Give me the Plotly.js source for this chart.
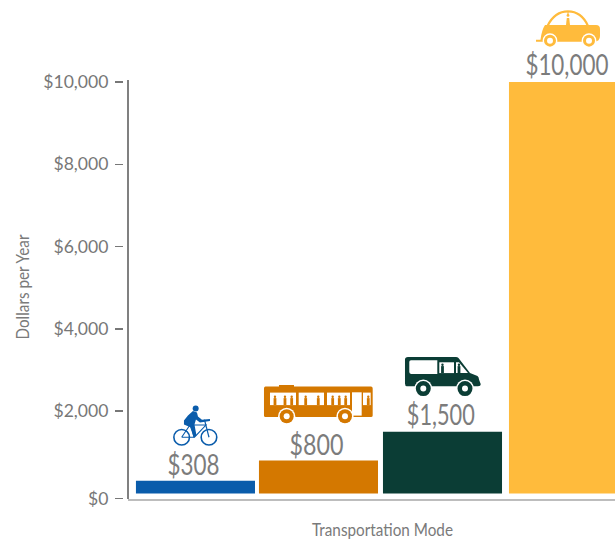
<!DOCTYPE html>
<html><head><meta charset="utf-8">
<script src="https://cdn.plot.ly/plotly-3.0.1.min.js"></script>
<style>html,body{margin:0;padding:0;background:#fff;overflow:hidden}</style>
</head><body><div id="chart" style="width:615px;height:540px"></div>
<script>
// ---- data ----
const categories = ['Bicycle', 'Bus', 'Vanpool', 'Car'];
const values = [308, 800, 1500, 10000];
const valueLabels = ['$308', '$800', '$1,500', '$10,000'];
const barColors = ['#0a5cab', '#d47800', '#0b3d35', '#ffbb3c'];
const tickValues = [-121, 2000, 4000, 6000, 8000, 10000];
const tickLabels = ['$0', '$2,000', '$4,000', '$6,000', '$8,000', '$10,000'];
const barOffsets = [-0.48, -0.488, -0.488, -0.472];
const labelGaps = [-1, -1, 0, 0];
const labelNudges = [-1.5, -3, -2.5, -0.5];
const labelWidths = [52, 54, 68, 83];

// ---- icon helpers: coordinates are px offsets from the top-centre of each bar ----
const shapes = [];
function base(i, extra) {
  return Object.assign({xref:'x', yref:'y', xsizemode:'pixel', ysizemode:'pixel',
    xanchor:i, yanchor:values[i], layer:'above'}, extra);
}
function poly(i, o, cmds, fill, stroke, sw) {
  const d = cmds.map(c => c[0] + ' ' + c.slice(1).map((v,k)=> k%2===0 ? (v-o[0]).toFixed(2) : (o[1]-v).toFixed(2)).join(' ')).join(' ');
  shapes.push(base(i, {type:'path', path:d, fillcolor:fill||'rgba(0,0,0,0)',
    line:{color:stroke||'rgba(0,0,0,0)', width:sw||0}}));
}
function circ(i, o, cx, cy, r, fill, stroke, sw) {
  shapes.push(base(i, {type:'circle', x0:cx-r-o[0], x1:cx+r-o[0], y0:o[1]-cy-r, y1:o[1]-cy+r,
    fillcolor:fill||'rgba(0,0,0,0)', line:{color:stroke||'rgba(0,0,0,0)', width:sw||0}}));
}
function rect(i,o,x0,y0,x1,y1,fill){
  poly(i,o,[['M',x0,y0],['L',x1,y0],['L',x1,y1],['L',x0,y1],['Z']],fill);
}
function person(i,o,x,top,bottom,col){
  circ(i,o,x,top+1.1,1.2,col);
  poly(i,o,[['M',x-1.4,top+2.5],['L',x+1.4,top+2.5],['L',x+1.4,bottom],['L',x-1.4,bottom],['Z']],col);
}

// bicycle
(function(){
  const i=0,c=barColors[0],o=[195.5,481.3];
  circ(i,o,181.7,437.7,7.8,null,c,1.6);
  circ(i,o,209,437.7,7.8,null,c,1.6);
  circ(i,o,195.7,409,3,c);
  poly(i,o,[['M',181.7,437.7],['L',190,425.5],['L',206,425.5],['L',194.5,437.7],['L',181.7,437.7]],null,c,1.1);
  poly(i,o,[['M',190,425.5],['L',194.5,437.7]],null,c,1.1);
  poly(i,o,[['M',209,437.7],['L',204.5,420]],null,c,1.2);
  poly(i,o,[['M',193,411.5],['L',197,413],['L',198,417],['L',202,420.2],['L',210,419.5],['L',210,421.5],
    ['L',200,423],['L',196,420],['L',194.5,425],['L',196.5,436],['L',193.5,438],['L',191,428],
    ['L',184,425],['L',184,421],['L',188,416],['Z']],c);
})();

// bus
(function(){
  const i=1,c=barColors[1],o=[319.5,461];
  poly(i,o,[['M',265.5,387],['L',279,387],['L',279,385.5],['L',294,385.5],['L',294,387],['L',371,387],
    ['Q',372.7,387,372.7,389],['L',372.7,416],['Q',372.7,417.5,371,417.5],['L',265.5,417.5],
    ['Q',264,417.5,264,416],['L',264,389],['Q',264,387,265.5,387],['Z']],c);
  rect(i,o,270,393,296,405.5,'#fff');
  rect(i,o,298.7,393,324,405.5,'#fff');
  rect(i,o,327,393,350,405.5,'#fff');
  rect(i,o,352,392.7,361.7,416,'#fff');
  rect(i,o,363,393,370.7,405.5,'#fff');
  [275,285,291.7,305.7,318.3,332.7,339.3,345.7,368.3].forEach(x=>person(i,o,x,396,405.5,c));
  [286.7,345].forEach(x=>{
    circ(i,o,x,416.7,8.6,'#fff');
    circ(i,o,x,416.7,7,c);
    circ(i,o,x,416.7,3,'#fff');
  });
})();

// van
(function(){
  const i=2,c=barColors[2],o=[443.5,432.2];
  poly(i,o,[['M',408,357.3],['L',456,357.3],['Q',457.5,357.3,458.5,358.5],['L',470,373.3],['L',477.5,376.5],
    ['Q',479,377.5,479,380],['L',480.7,384.5],['Q',480.7,386.7,478,386.7],['L',407,386.7],
    ['Q',405,386.7,405,384],['L',405,360],['Q',405,357.3,408,357.3],['Z']],c);
  poly(i,o,[['M',411,360.7],['L',437.3,360.7],['L',437.3,374.3],['L',411,374.3],['Q',409.3,374.3,409.3,372.5],
    ['L',409.3,362.5],['Q',409.3,360.7,411,360.7],['Z']],'#fff');
  rect(i,o,439.3,362.7,454,373.5,'#fff');
  poly(i,o,[['M',456,362.7],['L',459,362.7],['L',468,373.5],['L',456,373.5],['Z']],'#fff');
  person(i,o,442.5,364,373.5,c);
  person(i,o,459,364,373.5,c);
  [423.3,465].forEach(x=>{
    circ(i,o,x,389,9,'#fff');
    circ(i,o,x,389,7.5,c);
    circ(i,o,x,389,3,'#fff');
  });
})();

// car
(function(){
  const i=3,c=barColors[3],o=[567.5,82];
  poly(i,o,[['M',547.5,26],['C',553,15,560,11.5,568,11.5],['C',576,11.5,583,15,588,26]],null,c,2.2);
  poly(i,o,[['M',545,25],['L',596,25],['Q',600,25,600,29],['L',600,36],['Q',600,41.7,594,41.7],
    ['L',541.7,41.7],['L',536,41.7],['L',536,39.7],['L',540.5,39.7],['Q',541.7,30,545,25],['Z']],c);
  poly(i,o,[['M',568,11],['L',568,16]],null,c,1.2);
  poly(i,o,[['M',566.8,18],['L',569.2,18],['L',570,25],['L',566,25],['Z']],c);
  circ(i,o,568,15.5,1.4,c);
  [550,589].forEach(x=>{
    circ(i,o,x,40.7,7.4,'#fff');
    circ(i,o,x,40.7,6,c);
    circ(i,o,x,40.7,3,'#fff');
  });
})();

const yTop = 11869, yBottom = -133, yAxisTop = 10049;
// axis line detached from the ticks
shapes.push({type:'line', xref:'x domain', yref:'y', x0:0, x1:0, y0:yBottom, y1:yAxisTop,
  line:{color:'#808080', width:2}, layer:'above'});

const annotations = categories.map((c,i)=>({x:c, y:values[i], xref:'x', yref:'y', text:valueLabels[i],
  showarrow:false, xanchor:'center', yanchor:'bottom', yshift:labelGaps[i], xshift:labelNudges[i], borderpad:0,
  font:{family:'Lato, sans-serif', size:28, weight:400, color:'#7c7c7c'}}));

Plotly.newPlot('chart', [{
  type:'bar', x:categories, y:values, width:0.96, offset:barOffsets,
  marker:{color:barColors, line:{width:0}}, hoverinfo:'x+y', showlegend:false
}], {
  width:615, height:540, paper_bgcolor:'#fff', plot_bgcolor:'#fff',
  margin:{l:123, r:0, t:5, b:40.5, pad:0}, showlegend:false,
  xaxis:{type:'category', domain:[5/492,1], range:[-0.544,3.383], showticklabels:false, ticks:'',
    showgrid:false, zeroline:false, showline:true, linecolor:'#bdbdbd', linewidth:2,
    title:{text:'Transportation Mode', standoff:22, font:{family:'Lato, sans-serif', size:17, color:'#7a7a7a'}}},
  yaxis:{range:[yBottom,yTop], anchor:'free', position:0, tickmode:'array', tickvals:tickValues, ticktext:tickLabels,
    ticks:'outside', ticklen:8, tickwidth:1.5, tickcolor:'#777', showgrid:false, zeroline:false, showline:false,
    tickfont:{family:'Lato, "Open Sans", sans-serif', size:17.6, color:'#777'}, ticklabelstandoff:3,
    title:{text:'Dollars per Year', standoff:8, font:{family:'Lato, sans-serif', size:17, color:'#7a7a7a'}}},
  annotations:annotations, shapes:shapes
}, {displayModeBar:false, staticPlot:true}).then(()=>{
  // condensed lettering: the installed fonts have no narrow cut
  const squeeze=(el,w)=>{el.setAttribute('textLength',w);el.setAttribute('lengthAdjust','spacingAndGlyphs');};
  document.querySelectorAll('.annotation-text').forEach((el,i)=>squeeze(el,labelWidths[i]));
  const xt=document.querySelector('.xtitle');
  squeeze(xt,141); xt.setAttribute('x',382.5); xt.setAttribute('y',536);
  const yt=document.querySelector('.ytitle');
  squeeze(yt,105);
  const yx=yt.getAttribute('x'); yt.setAttribute('y',287);
  yt.setAttribute('transform','rotate(-90,'+yx+',287)');
});
</script></body></html>
